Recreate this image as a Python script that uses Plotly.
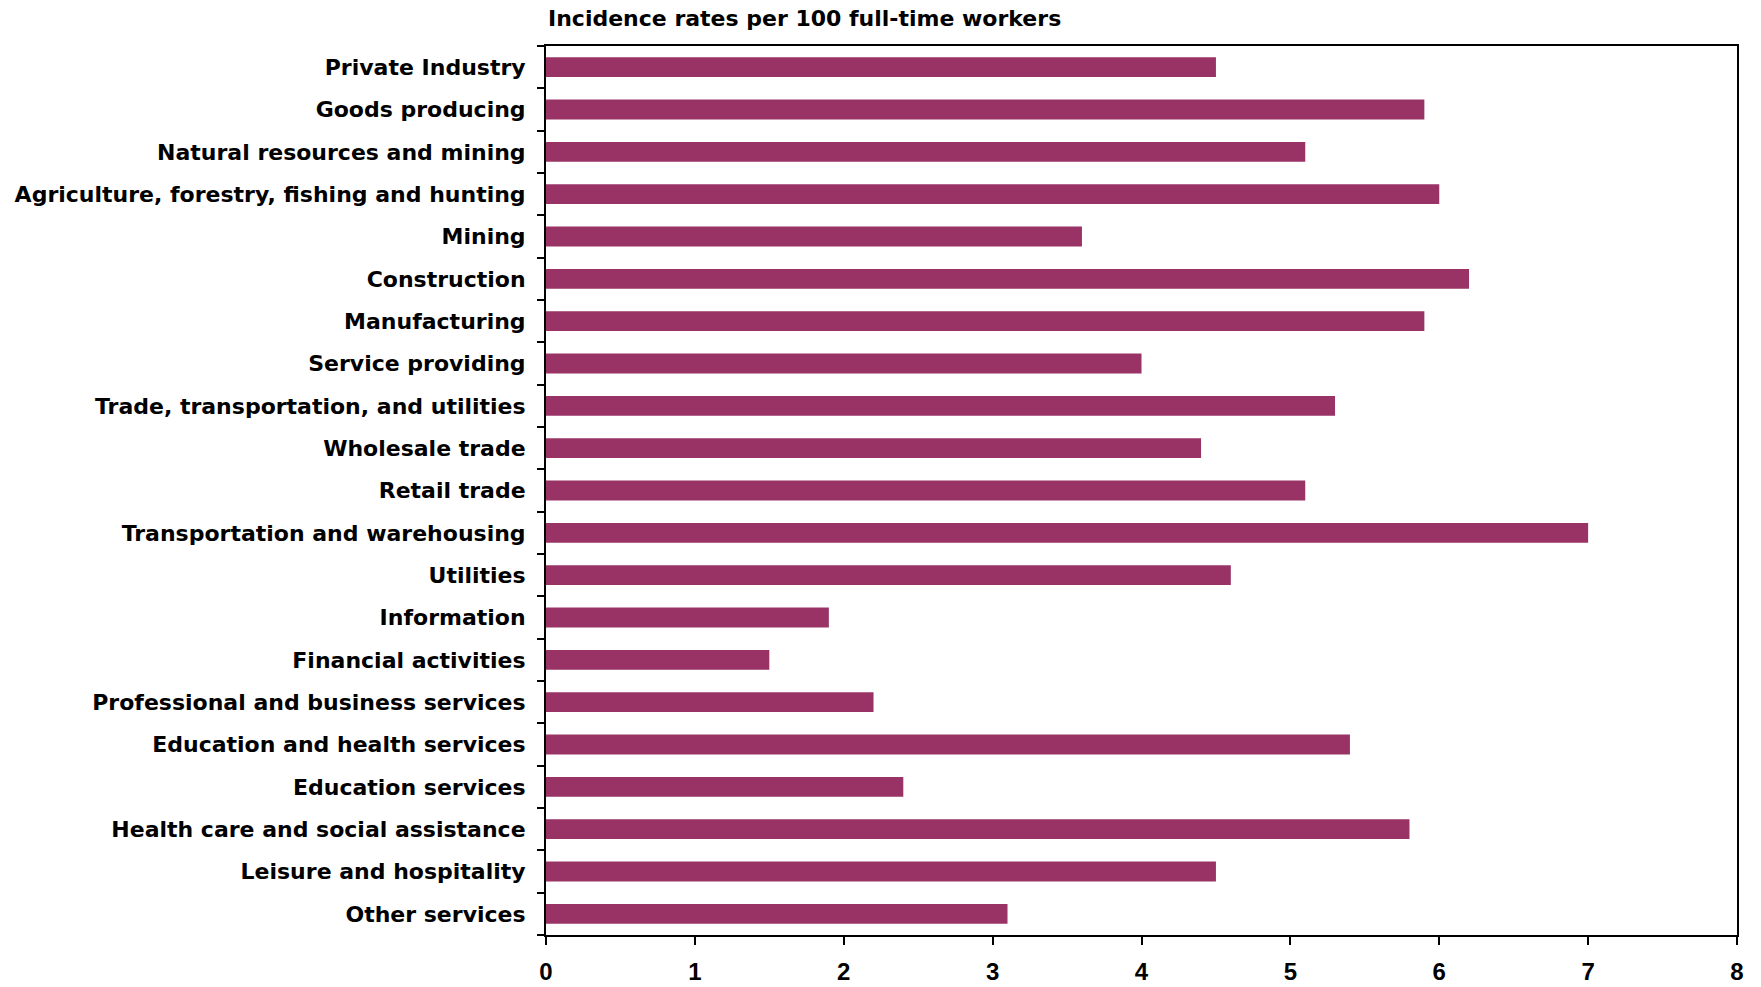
import plotly.graph_objects as go

industries = [
    "Private Industry",
    "Goods producing",
    "Natural resources and mining",
    "Agriculture, forestry, fishing and hunting",
    "Mining",
    "Construction",
    "Manufacturing",
    "Service providing",
    "Trade, transportation, and utilities",
    "Wholesale trade",
    "Retail trade",
    "Transportation and warehousing",
    "Utilities",
    "Information",
    "Financial activities",
    "Professional and business services",
    "Education and health services",
    "Education services",
    "Health care and social assistance",
    "Leisure and hospitality",
    "Other services",
]
incidence_rates = [4.5, 5.9, 5.1, 6.0, 3.6, 6.2, 5.9, 4.0, 5.3, 4.4, 5.1,
                   7.0, 4.6, 1.9, 1.5, 2.2, 5.4, 2.4, 5.8, 4.5, 3.1]
x_ticks = [0, 1, 2, 3, 4, 5, 6, 7, 8]

FONT = "DejaVu Sans, Liberation Sans, Arial, sans-serif"
NUM_FONT = "Liberation Sans, Arial, sans-serif"
FONT_SIZE = 22
BAR_COLOR = "#993366"

fig = go.Figure(
    go.Bar(
        x=incidence_rates,
        y=industries,
        orientation="h",
        marker=dict(color=BAR_COLOR, line=dict(width=0)),
        hoverinfo="x+y",
    )
)

fig.update_layout(
    width=1761,
    height=987,
    margin=dict(l=546, r=24, t=46, b=52, autoexpand=False),
    paper_bgcolor="white",
    plot_bgcolor="white",
    bargap=0.53,
    showlegend=False,
    font=dict(family=FONT, size=FONT_SIZE, color="black"),
    annotations=[
        dict(
            text="<b>Incidence rates per 100 full-time workers</b>",
            xref="paper", yref="paper",
            x=0, y=1, xanchor="left", yanchor="middle",
            xshift=0, yshift=28,
            showarrow=False,
            font=dict(family=FONT, size=FONT_SIZE, color="black"),
        )
    ],
)

fig.update_xaxes(
    range=[0, 8],
    tickvals=x_ticks,
    ticktext=[f"<b>{v}</b>" for v in x_ticks],
    ticks="outside",
    ticklen=8,
    tickwidth=1.5,
    tickcolor="black",
    ticklabelstandoff=6,
    showline=True,
    linecolor="black",
    linewidth=2,
    mirror=True,
    showgrid=False,
    zeroline=False,
    automargin=False,
    tickfont=dict(family=NUM_FONT, size=24, color="black"),
)

fig.update_yaxes(
    autorange="reversed",
    tickmode="array",
    tickvals=industries,
    ticktext=[f"<b>{c}</b>" for c in industries],
    ticks="outside",
    tickson="boundaries",
    ticklen=7,
    tickwidth=1.5,
    tickcolor="black",
    ticklabelstandoff=14,
    showline=True,
    linecolor="black",
    linewidth=2,
    mirror=True,
    showgrid=False,
    zeroline=False,
    automargin=False,
    tickfont=dict(family=FONT, size=FONT_SIZE, color="black"),
)

fig.write_html("out.html")
